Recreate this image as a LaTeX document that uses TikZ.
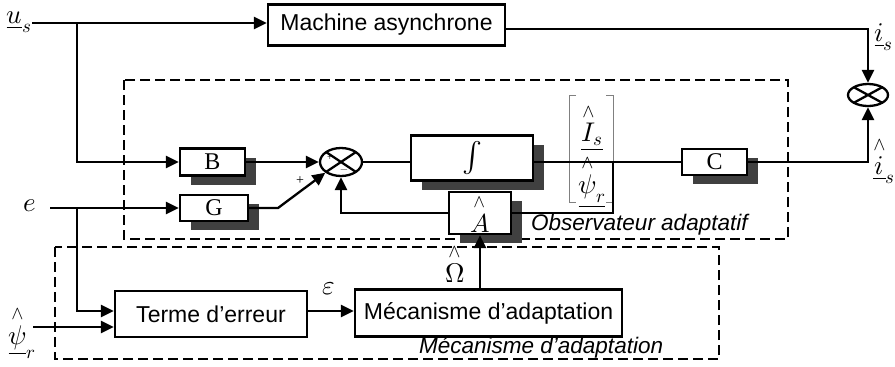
\documentclass[tikz,border=0pt]{standalone}
\usepackage{unicode-math}
\setmainfont{Liberation Serif}
\newfontfamily\arialf{Liberation Sans}
\usetikzlibrary{arrows.meta,shapes.geometric,shadows,calc}
\begin{document}
\begin{tikzpicture}[x=1pt,y=-1pt,
  ln/.style={line width=2.3pt},
  arr/.style={ln,-{Triangle[length=13pt,width=12pt]}},
  blk/.style={draw,line width=2.3pt,fill=white,inner sep=0pt,font=\arialf\fontsize{23}{24}\selectfont},
  shad/.style={draw,line width=2.3pt,fill=white,inner sep=0pt,font=\fontsize{24}{24}\selectfont,
    drop shadow={shadow xshift=11pt,shadow yshift=-9pt,fill=black!75,opacity=1}},
  sumnode/.style={ellipse,draw,line width=2.3pt,fill=white,inner sep=0pt,
    path picture={\draw[line width=2.3pt] (path picture bounding box.north west) -- (path picture bounding box.south east)
      (path picture bounding box.north east) -- (path picture bounding box.south west);}},
  dbox/.style={line width=2.3pt,dash pattern=on 10pt off 5pt},
  lbl/.style={font=\fontsize{27}{28}\selectfont,inner sep=0pt},
  itl/.style={font=\arialf\itshape\fontsize{22.5}{24}\selectfont,inner sep=0pt,anchor=west}]
\useasboundingbox (0,0) rectangle (895,367);
% dashed groups
\draw[dbox] (124,80) rectangle (788,239);
\draw[dbox] (55,247) rectangle (719,359);
% blocks
\node[blk,minimum width=237pt,minimum height=41pt] (mach) at (386.5,25) {Machine asynchrone};
\node[shad,minimum width=65pt,minimum height=27pt] (B) at (212.5,162) {B};
\node[shad,minimum width=68pt,minimum height=26pt] (G) at (214,208) {G};
\node[sumnode,minimum width=42pt,minimum height=28pt] (s1) at (341,162) {};
\node[shad,minimum width=122pt,minimum height=45pt,font=\fontsize{30}{30}\selectfont] (int) at (472,158) {$\int$};
\node[shad,minimum width=65pt,minimum height=26pt] (C) at (714.5,162) {C};
\node[shad,minimum width=62pt,minimum height=42pt,font=\fontsize{26}{26}\selectfont] (A) at (480,213) {$\stackrel{\wedge}{A}$};
\node[sumnode,minimum width=40pt,minimum height=22pt] (s2) at (868,95) {};
\node[blk,minimum width=192pt,minimum height=46pt] (term) at (211,314) {Terme d’erreur};
\node[blk,minimum width=267pt,minimum height=47pt] (meca) at (488.5,313) {Mécanisme d’adaptation};
% state vector bracket
\draw[gray,line width=0.9pt] (576,95) -| (569,202) -- (576,202);
\draw[gray,line width=0.9pt] (606,95) -| (613,202) -- (606,202);
\node[lbl] (Is) at (592,127) {$\underline{\stackrel{\wedge}{I}_{s}}$};
\node[lbl] (psr) at (592,181) {$\underline{\stackrel{\wedge}{\psi}_{r}}$};
% labels
\node[lbl] (us) at (19,22) {$\underline{u}_{s}$};
\node[lbl] (e) at (30,206) {$e$};
\node[lbl] (psl) at (22,332) {$\underline{\stackrel{\wedge}{\psi}}_{r}$};
\node[lbl] (is) at (884,37) {$\underline{i}_{s}$};
\node[lbl] (ihs) at (884,160) {$\underline{\stackrel{\wedge}{i}}_{s}$};
\node[lbl] (eps) at (329,289) {$\varepsilon$};
\node[lbl] (om) at (455,263) {$\stackrel{\wedge}{\mitOmega}$};
\node[font=\fontsize{14}{14}\selectfont,inner sep=0pt] (plus) at (300,181) {+};
\node[font=\fontsize{10}{10}\selectfont,inner sep=0pt] (pin) at (330,158) {+};
\node[font=\fontsize{10}{10}\selectfont,inner sep=0pt] (min) at (344,171) {$-$};
\node[itl] (obsl) at (531,225) {Observateur adaptatif};
\node[itl] (mecl) at (419,348) {Mécanisme d’adaptation};
% connectors
\coordinate (usin) at (32,23);
\coordinate (br1) at (77,23);
\coordinate (ein) at (50,208);
\coordinate (br2) at (77,208);
\coordinate (psin) at (33,327);
\coordinate (gk) at (278,208);
\coordinate (fb) at (613,162);
\draw[arr] (usin) -- (usin -| mach.west);
\draw[arr] (br1) |- (B.west);
\draw[arr] ($(mach.east)+(0,4)$) -| (s2.north);
\draw[arr] (ein) -- (G.west);
\draw[arr] (br2) |- ($(term.west)+(0,-3)$);
\draw[arr] (psin) -- (psin -| term.west);
\draw[arr] (B.east) -- (s1.west);
\draw[arr] (G.east) -- (gk) -- (s1.south west);
\draw[ln] (s1.east) -- (s1.east -| int.west);
\draw[ln] (s1.east -| int.east) -- (C.west);
\draw[arr] (C.east) -| (s2.south);
\draw[ln] (fb) |- (A.east);
\draw[arr] (A.west) -| (s1.south);
\draw[arr] (A.south |- meca.north) -- (A.south);
\coordinate (tm) at ($(term.east)+(0,-3)$);
\draw[arr] (tm) -- (tm -| meca.west);
\end{tikzpicture}
\end{document}
